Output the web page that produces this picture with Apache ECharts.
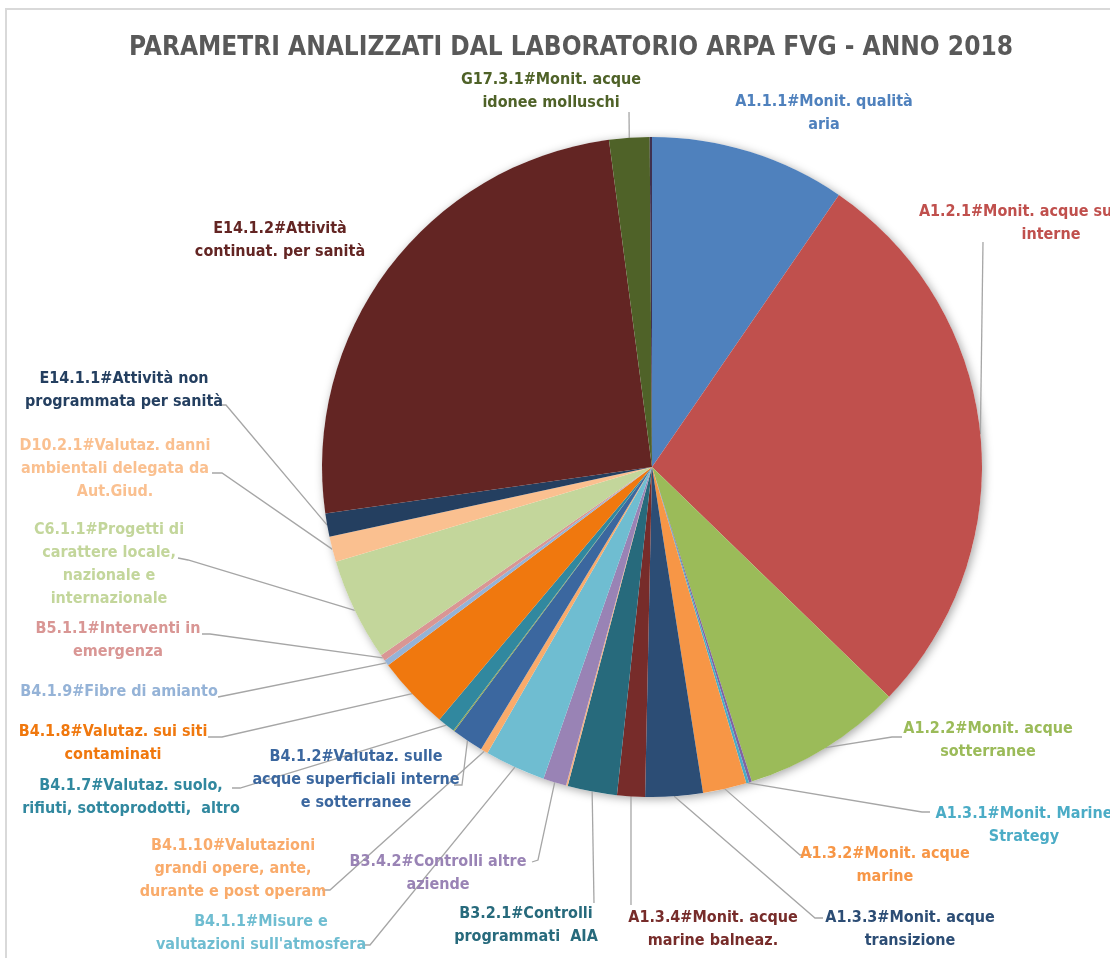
<!DOCTYPE html>
<html>
<head>
<meta charset="utf-8">
<title>Parametri analizzati ARPA FVG 2018</title>
<script src="https://cdn.jsdelivr.net/npm/echarts@6/dist/echarts.min.js"></script>
<style>
  html, body { margin: 0; padding: 0; background: #fff; }
  #chart { width: 1110px; height: 958px; }
</style>
</head>
<body>
<div id="chart"></div>
<script>
// slice labels, clockwise from 12 o'clock ('' = tiny slice without label)
const categories = [
  'A1.1.1#Monit. qualità\naria',
  'A1.2.1#Monit. acque superficiali\ninterne',
  'A1.2.2#Monit. acque\nsotterranee',
  '',
  'A1.3.1#Monit. Marine\nStrategy',
  'A1.3.2#Monit. acque\nmarine',
  'A1.3.3#Monit. acque\ntransizione',
  'A1.3.4#Monit. acque\nmarine balneaz.',
  'B3.2.1#Controlli\nprogrammati  AIA',
  '',
  'B3.4.2#Controlli altre\naziende',
  "B4.1.1#Misure e\nvalutazioni sull'atmosfera",
  'B4.1.10#Valutazioni\ngrandi opere, ante,\ndurante e post operam',
  'B4.1.2#Valutaz. sulle\nacque superficiali interne\ne sotterranee',
  '',
  'B4.1.7#Valutaz. suolo,\nrifiuti, sottoprodotti,  altro',
  'B4.1.8#Valutaz. sui siti\ncontaminati',
  'B4.1.9#Fibre di amianto',
  'B5.1.1#Interventi in\nemergenza',
  'C6.1.1#Progetti di\ncarattere locale,\nnazionale e\ninternazionale',
  'D10.2.1#Valutaz. danni\nambientali delegata da\nAut.Giud.',
  'E14.1.1#Attività non\nprogrammata per sanità',
  'E14.1.2#Attività\ncontinuat. per sanità',
  'G17.3.1#Monit. acque\nidonee molluschi',
  ''
]

// share of the pie
const values = [
  34.5, 99.6, 28.3, 0.5, 0.5, 7.7, 10.1, 4.9, 8.7, 0.3,
  4.1, 10.7, 1.3, 5.6, 0.2, 3.1, 13.0, 1.0, 1.1, 18.1,
  4.5, 4.1, 90.6, 7.1, 0.4
]

const colors = [
  '#4F81BD', '#C0504D', '#9BBB59', '#8064A2', '#4BACC6', '#F79646', '#2C4D75', '#772C2A',
  '#276A7C', '#F4B183', '#9983B5', '#6FBDD1', '#F9AB6B', '#3B679F', '#8FA44A', '#31889F',
  '#F0780E', '#95B3D7', '#D99694', '#C3D69B', '#FAC090', '#243F60', '#632523', '#4F6228',
  '#3F3151'
]

// label layout: text block centre and leader line points after the slice edge
const labelPos = {
  0: [824, 113, null],
  1: [1051, 223, [[983, 242]]],
  2: [988, 740, [[892, 737], [902, 737]]],
  4: [1024, 825, [[922, 812], [930, 812]]],
  5: [885, 865, [[800, 855], [812, 855]]],
  6: [910, 929, [[815, 918], [823, 918]]],
  7: [713, 929, [[631, 905]]],
  8: [526, 925, [[594, 903]]],
  10: [438, 873, [[538, 860], [532, 862]]],
  11: [261, 933, [[370, 945], [362, 945]]],
  12: [233, 869, [[330, 890], [322, 890]]],
  13: [356, 780, [[462, 785], [454, 785]]],
  15: [131, 797, [[240, 788], [232, 788]]],
  16: [113, 743, [[222, 737], [208, 737]]],
  17: [119, 692, [[228, 695], [218, 697]]],
  18: [118, 640, [[210, 634], [202, 634]]],
  19: [109, 564, [[188, 560], [178, 558]]],
  20: [115, 469, [[222, 473], [212, 473]]],
  21: [124, 390, [[226, 405], [217, 405]]],
  22: [280, 240, null],
  23: [551, 91, [[629, 112]]]
}

const FONT = '"Liberation Sans Narrow", "DejaVu Sans Condensed", "Liberation Sans", sans-serif'

const chart = echarts.init(document.getElementById('chart'))

const pieData = categories.map((name, i) => {
  const pos = labelPos[i]
  return {
    name: name,
    value: values[i],
    itemStyle: { color: colors[i] },
    label: { show: !!pos, color: colors[i] },
    labelLine: { show: !!(pos && pos[2]) }
  }
})

chart.setOption({
  animation: false,
  backgroundColor: '#fff',
  title: {
    text: 'PARAMETRI ANALIZZATI DAL LABORATORIO ARPA FVG - ANNO 2018',
    left: 566,
    top: 30,
    textAlign: 'center',
    textStyle: {
      fontFamily: FONT,
      fontSize: 26,
      fontWeight: 'bold',
      color: '#595959'
    }
  },
  graphic: [
    {
      type: 'rect',
      shape: { x: 6, y: 9, width: 1200, height: 1000 },
      style: { fill: 'none', stroke: '#d9d9d9', lineWidth: 2 },
      silent: true
    }
  ],
  series: [
    {
      // shadow under the pie
      type: 'pie',
      center: [652, 467],
      radius: 330,
      silent: true,
      z: 1,
      label: { show: false },
      labelLine: { show: false },
      itemStyle: {
        color: '#fff',
        shadowBlur: 10,
        shadowColor: 'rgba(0,0,0,0.35)',
        shadowOffsetX: 2,
        shadowOffsetY: 2
      },
      data: [{ value: 1, name: 'bg' }]
    },
    {
      type: 'pie',
      center: [652, 467],
      radius: 330,
      startAngle: 90,
      clockwise: true,
      z: 2,
      avoidLabelOverlap: false,
      minShowLabelAngle: 0,
      itemStyle: { borderWidth: 0 },
      label: {
        position: 'outside',
        fontFamily: FONT,
        fontSize: 16,
        fontWeight: 'bold',
        lineHeight: 23,
        align: 'center',
        formatter: p => p.name
      },
      labelLine: {
        lineStyle: { color: '#a6a6a6', width: 1.3 }
      },
      labelLayout: function (params) {
        const pos = labelPos[params.dataIndex]
        if (!pos) return {}
        const out = { x: pos[0], y: pos[1], align: 'center', verticalAlign: 'middle' }
        if (pos[2] && params.labelLinePoints) {
          out.labelLinePoints = [params.labelLinePoints[0]].concat(pos[2])
        }
        return out
      },
      data: pieData
    }
  ]
})

window.addEventListener('resize', () => chart.resize())
</script>
</body>
</html>
